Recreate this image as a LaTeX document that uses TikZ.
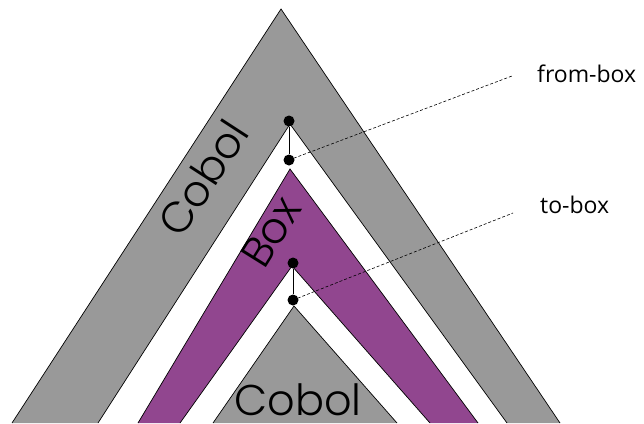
\documentclass[tikz,border=0pt]{standalone}
\usepackage{fontspec}
\newfontfamily\geofont{Poppins}[UprightFont={* Light}]
\newfontfamily\labfont{Open Sans}
\definecolor{bandgray}{HTML}{999999}
\definecolor{bandpurple}{HTML}{91468F}
\begin{document}
\begin{tikzpicture}[x=1pt,y=-1pt,
  edge/.style={draw=black,line width=0.7pt},
  dot/.style={circle,fill=black,inner sep=0pt,minimum size=11pt},
  leader/.style={draw=black,line width=0.6pt,dash pattern=on 3pt off 2pt},
  bigtext/.style={font=\geofont\fontsize{43}{43}\selectfont,inner sep=0pt},
  labtext/.style={font=\labfont\fontsize{23}{23}\selectfont,inner sep=0pt}]
\useasboundingbox (0,0) rectangle (644,423);
% outer gray band
\fill[bandgray] (12,423) -- (281,9) -- (560,423) -- (507,423) -- (290,124) -- (98,423) -- cycle;
\draw[edge] (12,423) -- (281,9) -- (560,423);
\draw[edge] (507,423) -- (290,124) -- (98,423);
% purple band
\fill[bandpurple] (138,423) -- (290,169) -- (478,423) -- (430,423) -- (292,266) -- (180,423) -- cycle;
\draw[edge] (138,423) -- (290,169) -- (478,423);
\draw[edge] (430,423) -- (292,266) -- (180,423);
% inner gray triangle
\fill[bandgray] (213,423) -- (294,306) -- (397,423) -- cycle;
\draw[edge] (213,423) -- (294,306) -- (397,423);
% texts
\node[bigtext,rotate=57] (cobolL) at (203,178) {Cobol};
\node[bigtext,rotate=58] (boxT) at (271,232) {Box};
\node[bigtext,anchor=base] (cobolB) at (298,415) {Cobol};
% dots
\node[dot] (fa) at (289,121) {};
\node[dot] (fb) at (289,160) {};
\node[dot] (ta) at (293,263) {};
\node[dot] (tb) at (293,300) {};
\draw[line width=1pt] (fa) -- (fb);
\draw[line width=1pt] (ta) -- (tb);
% labels
\node[labtext,anchor=base west] (fromlab) at (537,82) {from-box};
\node[labtext,anchor=base west] (tolab) at (540,213) {to-box};
\coordinate (fend) at (512,76);
\coordinate (tend) at (513,213);
\draw[leader] (fb.center) -- (fend);
\draw[leader] (tb.center) -- (tend);
\end{tikzpicture}
\end{document}
